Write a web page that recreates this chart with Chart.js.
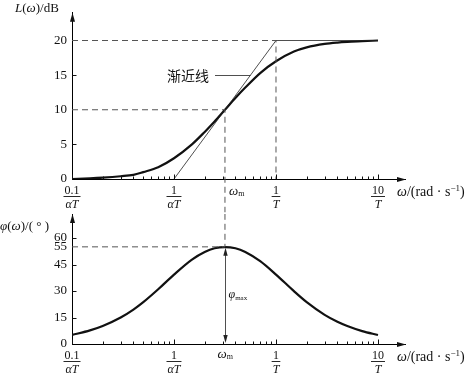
<!DOCTYPE html>
<html><head><meta charset="utf-8">
<script src="https://cdn.jsdelivr.net/npm/chart.js@4/dist/chart.umd.min.js"></script>
<style>
html,body{margin:0;padding:0;background:#fff;}
#wrap{position:relative;width:469px;height:376px;overflow:hidden;}
canvas{position:absolute;left:0;top:0;}
</style></head><body>
<div id="wrap"><canvas id="top" width="469" height="376"></canvas><canvas id="bot" width="469" height="376"></canvas></div>
<script>
// ---- data (ω in units of 1/T, α = 10) ----
const omegaT      = [0.01,0.015,0.02,0.03,0.04,0.05,0.07,0.1,0.15,0.2,0.25,0.316,0.4,0.5,0.7,1,1.5,2,3,4,5,7,10];
const magnitudeDB = [0.0,0.1,0.2,0.4,0.6,1.0,1.7,3.0,5.0,6.8,8.3,10.0,11.7,13.2,15.3,17.0,18.4,19.0,19.5,19.7,19.8,19.9,20.0];
const phaseDeg    = [5.1,7.7,10.2,15.0,19.5,23.7,31.0,39.3,47.8,52.1,54.2,54.9,54.2,52.1,46.9,39.3,29.9,23.7,16.5,12.6,10.2,7.3,5.1];
const asymptoteX  = [0.1,1,10];
const asymptoteY  = [0,20,20];
const magTicks    = [0,5,10,15,20];
const phaseTicks  = [0,15,30,45,55,60];
const decadeTicks = [0.01,0.1,1,10];
const decadeNum   = ['0.1','1','1','10'];
const decadeDen   = ['αT','αT','T','T'];
const omegaM = 0.316;
const magAtOmegaM = 10;
const phaseMax = 55;
const magHigh = 20;
const cornerHigh = 1;
const leaderAt = {x:0.5623, y:15};

const SERIF = '"Liberation Serif","Times New Roman",serif';
const CJK = '"Noto Sans CJK SC","Noto Sans CJK JP",sans-serif';
const INK = '#111';
const DASH = '#555';

function font(size, italic){ return (italic?'italic ':'') + size + 'px ' + SERIF; }
function runsWidth(ctx, parts){ let w=0; for (const p of parts){ ctx.font=font(p[1],p[2]); w+=ctx.measureText(p[0]).width; } return w; }
function runs(ctx, x, y, parts){
  ctx.save(); ctx.textBaseline='alphabetic'; ctx.textAlign='left'; ctx.fillStyle=INK;
  for (const [t,s,it,dy] of parts){ ctx.font=font(s,it); ctx.fillText(t,x,y+(dy||0)); x+=ctx.measureText(t).width; }
  ctx.restore(); return x;
}
const pts = (xs, ys) => xs.map((x,i)=>({x, y: ys[i]}));
const lineDS = (data, opts) => Object.assign({data, borderColor:INK, borderWidth:1, pointRadius:0, fill:false, tension:0}, opts);

function decor(chart, cfg){
  const ctx=chart.ctx, xs=chart.scales.x, ys=chart.scales.y, a=chart.chartArea;
  const x0=Math.round(a.left)+0.5, yb=Math.round(a.bottom)+0.5;
  ctx.save(); ctx.strokeStyle=INK; ctx.lineWidth=1;
  ctx.beginPath();
  const last = decadeTicks[decadeTicks.length-1];
  for (const d of decadeTicks){
    for (let m=1;m<=9;m++){
      const v=d*m; if (v>last*1.0001) break;
      const px=Math.round(xs.getPixelForValue(v))+0.5;
      const len = m===1?5:3;
      ctx.moveTo(px,yb); ctx.lineTo(px,yb-len);
    }
  }
  for (const v of cfg.yTicks){
    if (v===0 || cfg.skipY.includes(v)) continue;
    const py=Math.round(ys.getPixelForValue(v))+0.5;
    ctx.moveTo(x0,py); ctx.lineTo(x0+4,py);
  }
  ctx.stroke();
  // axis arrows
  ctx.fillStyle=INK;
  ctx.beginPath(); ctx.moveTo(x0, a.top); ctx.lineTo(x0-2.5, a.top+9); ctx.lineTo(x0+2.5, a.top+9); ctx.closePath(); ctx.fill();
  ctx.beginPath(); ctx.moveTo(a.right+1, yb); ctx.lineTo(a.right-8, yb-2.5); ctx.lineTo(a.right-8, yb+2.5); ctx.closePath(); ctx.fill();
  // fraction tick labels
  decadeTicks.forEach((v,i)=>{
    const cx = xs.getPixelForValue(v);
    const den = [[decadeDen[i],12,true]];
    const dw = runsWidth(ctx, den);
    ctx.font=font(12,false);
    const nw = ctx.measureText(decadeNum[i]).width;
    const bw = Math.max(nw,dw)+2;
    ctx.fillStyle=INK; ctx.textAlign='center'; ctx.textBaseline='alphabetic';
    ctx.fillText(decadeNum[i], cx, yb+14);
    ctx.lineWidth=0.9; ctx.beginPath(); ctx.moveTo(cx-bw/2, yb+17); ctx.lineTo(cx+bw/2, yb+17); ctx.stroke();
    runs(ctx, cx-dw/2, yb+28, den);
  });
  // x-axis title
  runs(ctx, a.right-8, yb+16, [['ω',14,true],['/(rad · s',14,false],['−1',9,false,-5],[')',14,false]]);
  ctx.restore();
}

new Chart(document.getElementById('top'), {
  type:'line',
  data:{datasets:[
    lineDS([{x:decadeTicks[0],y:magHigh},{x:cornerHigh,y:magHigh},{x:cornerHigh,y:0}], {borderColor:DASH, borderDash:[6,4]}),
    lineDS([{x:decadeTicks[0],y:magAtOmegaM},{x:omegaM,y:magAtOmegaM},{x:omegaM,y:-4.8}], {borderColor:DASH, borderDash:[6,4], clip:false}),
    lineDS(pts(asymptoteX, asymptoteY), {borderWidth:0.8, borderColor:'#222'}),
    lineDS(pts(omegaT, magnitudeDB), {borderWidth:2.2, cubicInterpolationMode:'monotone'})
  ]},
  options:{
    responsive:false, animation:false, events:[],
    layout:{padding:{left:0,right:64,top:3,bottom:197}},
    plugins:{legend:{display:false}, tooltip:{enabled:false}},
    scales:{
      x:{type:'logarithmic', min:0.01, max:18.4, position:'bottom',
        grid:{drawOnChartArea:false, drawTicks:false}, border:{display:true,color:'#000',width:1},
        ticks:{display:false},
        afterBuildTicks(s){ s.ticks = decadeTicks.map(v=>({value:v})); },
        afterFit(s){ s.height=0; }},
      y:{type:'linear', min:0, max:24, position:'left',
        grid:{drawOnChartArea:false, drawTicks:false}, border:{display:true,color:'#000',width:1},
        ticks:{color:INK, font:{family:SERIF,size:13}, padding:5, autoSkip:false},
        afterBuildTicks(s){ s.ticks = magTicks.map(v=>({value:v})); },
        afterFit(s){ s.width=72; }}
    }
  },
  plugins:[{id:'topDecor', afterDraw(chart){
    decor(chart, {yTicks:magTicks, skipY:[magAtOmegaM, magHigh]});
    const ctx=chart.ctx, xs=chart.scales.x, ys=chart.scales.y, a=chart.chartArea;
    runs(ctx, 15, 12, [['L',13,true],['(',13,false],['ω',13,true],[')/dB',13,false]]);
    runs(ctx, xs.getPixelForValue(omegaM)+4, a.bottom+16, [['ω',13,true],['m',8,false,1]]);
    // annotation for asymptote
    ctx.save();
    ctx.font='14px '+CJK; ctx.fillStyle=INK; ctx.textBaseline='middle'; ctx.textAlign='left';
    ctx.fillText('渐近线', 167, ys.getPixelForValue(leaderAt.y)+1);
    ctx.strokeStyle='#222'; ctx.lineWidth=0.8;
    const ly = Math.round(ys.getPixelForValue(leaderAt.y))+0.5;
    ctx.beginPath(); ctx.moveTo(215, ly); ctx.lineTo(xs.getPixelForValue(leaderAt.x), ly); ctx.stroke();
    ctx.restore();
  }}]
});

new Chart(document.getElementById('bot'), {
  type:'line',
  data:{datasets:[
    lineDS([{x:decadeTicks[0],y:phaseMax},{x:omegaM,y:phaseMax},{x:omegaM,y:73.6}], {borderColor:DASH, borderDash:[6,4], clip:false}),
    lineDS(pts(omegaT, phaseDeg), {borderWidth:2.2, cubicInterpolationMode:'monotone'})
  ]},
  options:{
    responsive:false, animation:false, events:[],
    layout:{padding:{left:0,right:64,top:214,bottom:32}},
    plugins:{legend:{display:false}, tooltip:{enabled:false}},
    scales:{
      x:{type:'logarithmic', min:0.01, max:18.4, position:'bottom',
        grid:{drawOnChartArea:false, drawTicks:false}, border:{display:true,color:'#000',width:1},
        ticks:{display:false},
        afterBuildTicks(s){ s.ticks = decadeTicks.map(v=>({value:v})); },
        afterFit(s){ s.height=0; }},
      y:{type:'linear', min:0, max:73.6, position:'left',
        grid:{drawOnChartArea:false, drawTicks:false}, border:{display:true,color:'#000',width:1},
        ticks:{color:INK, font:{family:SERIF,size:13}, padding:5, autoSkip:false},
        afterBuildTicks(s){ s.ticks = phaseTicks.map(v=>({value:v})); },
        afterFit(s){ s.width=72; }}
    }
  },
  plugins:[{id:'botDecor', afterDraw(chart){
    decor(chart, {yTicks:phaseTicks, skipY:[phaseMax]});
    const ctx=chart.ctx, xs=chart.scales.x, ys=chart.scales.y, a=chart.chartArea;
    runs(ctx, 0, 230, [['φ',13,true],['(',13,false],['ω',13,true],[')/( ° )',13,false]]);
    const xm = Math.round(xs.getPixelForValue(omegaM))+0.5;
    runs(ctx, xm-8, a.bottom+14, [['ω',13,true],['m',8,false,1]]);
    // φmax double arrow
    const yTop = ys.getPixelForValue(phaseMax)+1, yBot = ys.getPixelForValue(0)-1;
    ctx.save(); ctx.strokeStyle='#222'; ctx.fillStyle='#222'; ctx.lineWidth=0.8;
    ctx.beginPath(); ctx.moveTo(xm, yTop+6); ctx.lineTo(xm, yBot-6); ctx.stroke();
    ctx.beginPath(); ctx.moveTo(xm, yTop); ctx.lineTo(xm-2.2, yTop+8); ctx.lineTo(xm+2.2, yTop+8); ctx.closePath(); ctx.fill();
    ctx.beginPath(); ctx.moveTo(xm, yBot); ctx.lineTo(xm-2.2, yBot-8); ctx.lineTo(xm+2.2, yBot-8); ctx.closePath(); ctx.fill();
    ctx.restore();
    runs(ctx, xm+3, (yTop+yBot)/2+3, [['φ',12,true],['max',7,false,2]]);
  }}]
});
</script>
</body></html>
